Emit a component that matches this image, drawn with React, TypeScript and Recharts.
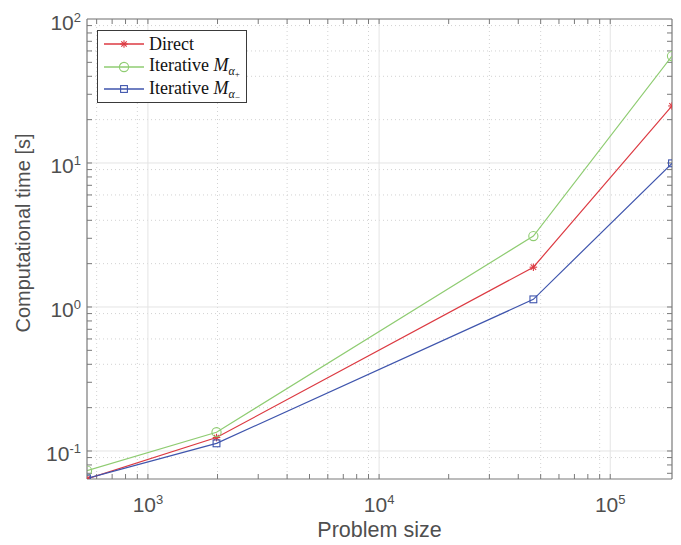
import React from "react";
import { CartesianGrid, Legend, Line, LineChart, ReferenceLine, XAxis, YAxis } from "recharts";

// problem sizes (x) and computational times in seconds (y)
const sizes = [545, 1980, 46500, 185000];
const direct = [0.064, 0.124, 1.89, 24.9];
const iterPlus = [0.073, 0.135, 3.11, 55.3];
const iterMinus = [0.0645, 0.113, 1.13, 9.95];

const xTicks = [1000, 10000, 100000];
const yTicks = [0.1, 1, 10, 100];
const xMinor = [600, 700, 800, 900, 2000, 3000, 4000, 5000, 6000, 7000, 8000, 9000, 20000, 30000, 40000, 50000, 60000, 70000, 80000, 90000];
const yMinor = [0.07, 0.08, 0.09, 0.2, 0.3, 0.4, 0.5, 0.6, 0.7, 0.8, 0.9, 2, 3, 4, 5, 6, 7, 8, 9, 20, 30, 40, 50, 60, 70, 80, 90];

const X_DOMAIN = [545, 185000];
const Y_DOMAIN = [0.0639, 100];

const RED = "#dc3a42";
const GREEN = "#8fcc72";
const BLUE = "#3f55ad";
const AXIS = "#7a7a7a";
const TEXT = "#4f4f4f";
const SANS = "'Liberation Sans', Arial, sans-serif";

const data = sizes.map((n, i) => ({ n, direct: direct[i], plus: iterPlus[i], minus: iterMinus[i] }));

const exp = (v: number) => Math.round(Math.log10(v));

function XTick(p: any) {
  return (
    <text x={p.x} y={512} textAnchor="middle" fill={TEXT} fontFamily={SANS} fontSize={21}>
      <tspan>10</tspan>
      <tspan dy={-8} fontSize={13}>{exp(p.payload.value)}</tspan>
    </text>
  );
}

function YTick(p: any) {
  return (
    <text x={81} y={p.y + 10.5} textAnchor="end" fill={TEXT} fontFamily={SANS} fontSize={21}>
      <tspan>10</tspan>
      <tspan dy={-8} fontSize={13}>{exp(p.payload.value)}</tspan>
    </text>
  );
}

function YLabel() {
  return (
    <text x={30} y={233} transform="rotate(-90 30 233)" textAnchor="middle" fill={TEXT} fontFamily={SANS} fontSize={20}>
      Computational time [s]
    </text>
  );
}

// inward tick marks on both opposite sides of the box
function VTicks(p: any) {
  const top = Math.min(p.y1, p.y2);
  const bot = Math.max(p.y1, p.y2);
  return (
    <g stroke={AXIS} strokeWidth={1}>
      <line x1={p.x1} x2={p.x1} y1={bot} y2={bot - 5} />
      <line x1={p.x1} x2={p.x1} y1={top} y2={top + 5} />
    </g>
  );
}

function HTicks(p: any) {
  const l = Math.min(p.x1, p.x2);
  const r = Math.max(p.x1, p.x2);
  return (
    <g stroke={AXIS} strokeWidth={1}>
      <line x1={l} x2={l + 5} y1={p.y1} y2={p.y1} />
      <line x1={r} x2={r - 5} y1={p.y1} y2={p.y1} />
    </g>
  );
}

function Star({ cx, cy, color = RED }: any) {
  const r = 3.8;
  const d = r * 0.72;
  return (
    <g stroke={color} strokeWidth={1.1}>
      <line x1={cx - r} x2={cx + r} y1={cy} y2={cy} />
      <line x1={cx} x2={cx} y1={cy - r} y2={cy + r} />
      <line x1={cx - d} x2={cx + d} y1={cy - d} y2={cy + d} />
      <line x1={cx - d} x2={cx + d} y1={cy + d} y2={cy - d} />
    </g>
  );
}

function Ring({ cx, cy, color = GREEN }: any) {
  return <circle cx={cx} cy={cy} r={4.6} fill="none" stroke={color} strokeWidth={1.1} />;
}

function Square({ cx, cy, color = BLUE }: any) {
  return <rect x={cx - 3.4} y={cy - 3.4} width={6.8} height={6.8} fill="none" stroke={color} strokeWidth={1.1} />;
}

const entries = [
  { color: RED, Mark: Star, label: <>Direct</> },
  {
    color: GREEN,
    Mark: Ring,
    label: (
      <>
        Iterative <i>M</i>
        <span style={{ fontSize: 12, position: "relative", top: 4 }}>
          <i>α</i>
          <span style={{ fontSize: 9, position: "relative", top: 2 }}>+</span>
        </span>
      </>
    ),
  },
  {
    color: BLUE,
    Mark: Square,
    label: (
      <>
        Iterative <i>M</i>
        <span style={{ fontSize: 12, position: "relative", top: 4 }}>
          <i>α</i>
          <span style={{ fontSize: 9, position: "relative", top: 2 }}>−</span>
        </span>
      </>
    ),
  },
];

function LegendBox() {
  return (
    <div
      style={{
        width: 150,
        height: 73,
        border: "1px solid #3a3a3a",
        background: "#fff",
        boxSizing: "border-box",
        padding: "2px 0 0 5px",
        fontFamily: "'Liberation Serif', 'Times New Roman', serif",
        fontSize: 18,
        color: "#111",
        textAlign: "left",
      }}
    >
      {entries.map((e, i) => (
        <div key={i} style={{ display: "flex", alignItems: "center", height: 22.5 }}>
          <svg width={42} height={14} style={{ flex: "none" }}>
            <line x1={1} x2={41} y1={7} y2={7} stroke={e.color} strokeWidth={1.3} />
            <e.Mark cx={21} cy={7} color={e.color} />
          </svg>
          <span style={{ marginLeft: 4, whiteSpace: "nowrap", lineHeight: "20px" }}>{e.label}</span>
        </div>
      ))}
    </div>
  );
}

export default function App() {
  return (
    <div style={{ position: "absolute", left: 0, top: 0, background: "#fff" }}>
      <LineChart width={681} height={545} data={data} margin={{ top: 19, right: 9, bottom: 0, left: 0 }}>
        <CartesianGrid horizontalValues={yMinor} verticalValues={xMinor} stroke="#d2d2d2" strokeDasharray="1 3" />
        <CartesianGrid horizontalValues={yTicks} verticalValues={xTicks} stroke="#e4e4e4" />
        <XAxis
          dataKey="n"
          type="number"
          scale="log"
          domain={X_DOMAIN}
          allowDataOverflow
          ticks={xTicks}
          tick={<XTick />}
          tickLine={false}
          axisLine={{ stroke: AXIS, strokeWidth: 1.2 }}
          height={66}
          label={{ value: "Problem size", position: "insideBottom", offset: 8, fill: TEXT, fontSize: 21.5, fontFamily: SANS }}
        />
        <YAxis
          type="number"
          scale="log"
          domain={Y_DOMAIN}
          allowDataOverflow
          ticks={yTicks}
          tick={<YTick />}
          tickLine={false}
          axisLine={{ stroke: AXIS, strokeWidth: 1.2 }}
          width={87}
          label={<YLabel />}
        />
        {[...xMinor, ...xTicks].map((v) => (
          <ReferenceLine key={"vx" + v} x={v} shape={<VTicks />} />
        ))}
        {[...yMinor, ...yTicks.slice(0, 3)].map((v) => (
          <ReferenceLine key={"hy" + v} y={v} shape={<HTicks />} />
        ))}
        <ReferenceLine y={100} stroke={AXIS} strokeWidth={1.2} />
        <ReferenceLine x={185000} stroke={AXIS} strokeWidth={1.2} />
        <Line
          dataKey="direct"
          name="Direct"
          stroke={RED}
          strokeWidth={1.2}
          dot={(p: any) => <Star key={"d" + p.index} cx={p.cx} cy={p.cy} />}
          isAnimationActive={false}
        />
        <Line
          dataKey="plus"
          name="Iterative plus"
          stroke={GREEN}
          strokeWidth={1.2}
          dot={(p: any) => <Ring key={"p" + p.index} cx={p.cx} cy={p.cy} />}
          isAnimationActive={false}
        />
        <Line
          dataKey="minus"
          name="Iterative minus"
          stroke={BLUE}
          strokeWidth={1.2}
          dot={(p: any) => <Square key={"m" + p.index} cx={p.cx} cy={p.cy} />}
          isAnimationActive={false}
        />
        <Legend
          layout="horizontal"
          verticalAlign="middle"
          align="center"
          content={<LegendBox />}
          wrapperStyle={{ position: "absolute", left: 97, top: 30, width: "auto", height: "auto" }}
        />
      </LineChart>
    </div>
  );
}
